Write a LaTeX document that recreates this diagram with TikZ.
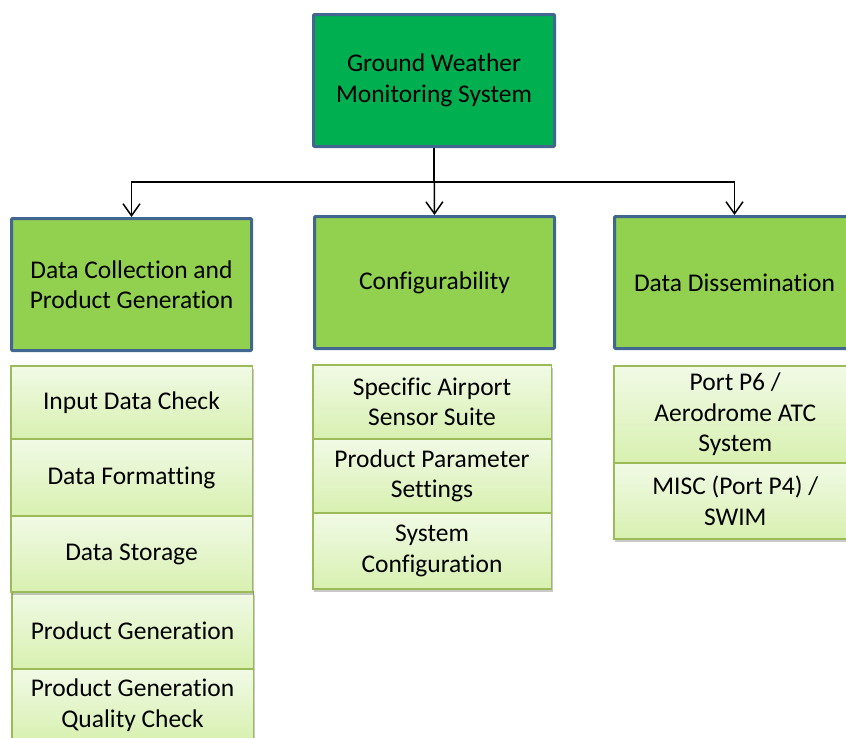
\documentclass[tikz,border=0pt]{standalone}
\usepackage{fontspec}
\setmainfont{Carlito}[Ligatures=NoCommon]
\usetikzlibrary{arrows.meta,shadows}
\definecolor{rootfill}{HTML}{00B050}
\definecolor{catfill}{HTML}{92D050}
\definecolor{boxedge}{HTML}{41668F}
\definecolor{subtop}{HTML}{F1FAE6}
\definecolor{subbot}{HTML}{D8F0B0}
\definecolor{subedge}{HTML}{9BBB59}
\begin{document}
\begin{tikzpicture}[x=1pt,y=-1pt,
  txt/.style={font=\fontsize{25.5}{30.5}\selectfont, align=center, text=black},
  mainbox/.style={txt, draw=boxedge, line width=3pt, rounded corners=1pt,
    minimum width=240pt, minimum height=132pt, anchor=north west, inner sep=0pt},
  rootbox/.style={mainbox, fill=rootfill},
  catbox/.style={mainbox, fill=catfill},
  subbox/.style={txt, draw=subedge, line width=1.5pt, top color=subtop, bottom color=subbot,
    minimum width=241.5pt, anchor=north west, inner sep=0pt, outer sep=0pt,
    drop shadow={shadow xshift=1.5pt, shadow yshift=-2.5pt, opacity=0.3, fill=black!70}},
  link/.style={line width=1.5pt, draw=black},
  linkarrow/.style={link, -{Straight Barb[length=12pt,width=17pt,line width=1.5pt]}}
]
\useasboundingbox (0,0) rectangle (846,737);

% top level
\node[rootbox, minimum width=241pt] (root) at (312,13) {Ground Weather\\Monitoring System};

% second level
\node[catbox] (dcpg) at (10,217) {Data Collection and\\Product Generation};
\node[catbox] (conf) at (313,215) {Configurability};
\node[catbox] (diss) at (613,215) {Data Dissemination};

% connectors
\coordinate (bus) at (433,182);
\draw[link] (root.south) -- (root.south |- bus);
\draw[linkarrow] (root.south |- bus) -| (dcpg.north);
\draw[linkarrow] (root.south |- bus) -| (diss.north);
\draw[linkarrow] (root.south) -- (conf.north);

% left column, lower group
\node[subbox, minimum height=77pt] (prodgen) at (11.75,592) {Product Generation};
\node[subbox, minimum height=72pt] (pgqc) at (11.75,669) {Product Generation\\Quality Check};
% left column, upper group
\node[subbox, minimum height=73pt] (idc) at (10.75,366) {Input Data Check};
\node[subbox, minimum height=77pt] (dfmt) at (10.75,439) {Data Formatting};
\node[subbox, minimum height=76pt] (dstor) at (10.75,516) {Data Storage};

% middle column
\node[subbox, minimum width=238.5pt, minimum height=74pt] (sass) at (312.75,365) {Specific Airport\\Sensor Suite};
\node[subbox, minimum width=238.5pt, minimum height=74pt] (pps) at (312.75,439) {Product Parameter\\Settings};
\node[subbox, minimum width=238.5pt, minimum height=76pt] (sysconf) at (312.75,513) {System\\Configuration};

% right column
\node[subbox, minimum height=97pt, minimum width=243pt] (p6) at (613.75,366) {Port P6 /\\Aerodrome ATC\\System};
\node[subbox, minimum height=76pt, minimum width=243pt] (misc) at (613.75,463) {MISC (Port P4) /\\SWIM};
\end{tikzpicture}
\end{document}
